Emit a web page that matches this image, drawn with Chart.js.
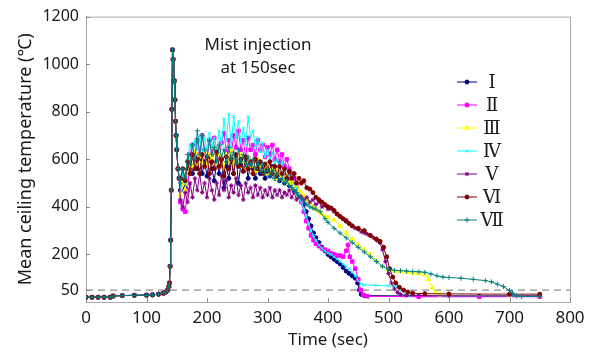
<!DOCTYPE html>
<html lang="en">
<head>
    <meta charset="UTF-8">
    <title>Mean ceiling temperature</title>
    <script src="https://cdn.jsdelivr.net/npm/chart.js"></script>
    <style>
        html, body { margin: 0; padding: 0; background: #fff; }
        #wrap { width: 594px; height: 353px; }
    </style>
</head>
<body>
    <div id="wrap"><canvas id="myChart" width="594" height="353"></canvas></div>

    <script>
        // shared part before mist injection (all runs nearly identical)
        const preTime = [0, 10, 20, 30, 40, 45, 60, 80, 100, 110, 120, 128, 132, 135, 137, 138, 139, 140, 141, 142, 143, 144, 145, 146, 147, 148, 149, 150, 152, 154];
        const preTemp = [20, 20, 20, 20, 20, 25, 27, 28, 29, 30, 33, 37, 42, 50, 65, 80, 150, 260, 470, 810, 1060, 1020, 930, 930, 850, 760, 700, 640, 560, 520];

        // noisy plateau, sampled every 4 s
        const midTime = [156, 160, 164, 168, 172, 176, 180, 184, 188, 192,
                         196, 200, 204, 208, 212, 216, 220, 224, 228, 232,
                         236, 240, 244, 248, 252, 256, 260, 264, 268, 272,
                         276, 280, 284, 288, 292, 296, 300, 304, 308, 312,
                         316, 320, 324, 328, 332, 336, 340, 344, 348, 352];

        const midI = [470, 520, 480, 560, 600, 540, 610, 560, 620, 540,
                      590, 530, 600, 560, 510, 590, 540, 600, 480, 570,
                      520, 590, 540, 610, 500, 580, 550, 600, 520, 580,
                      560, 520, 590, 540, 570, 520, 560, 530, 570, 520,
                      550, 510, 540, 500, 530, 490, 510, 470, 480, 450];
        const midII = [420, 390, 380, 470, 620, 660, 600, 680, 620, 700,
                       640, 600, 680, 620, 690, 640, 600, 670, 710, 630,
                       680, 610, 700, 650, 720, 640, 680, 610, 690, 640,
                       660, 620, 680, 640, 660, 610, 650, 620, 660, 600,
                       640, 590, 620, 570, 600, 560, 540, 520, 490, 460];
        const midIII = [450, 500, 470, 540, 600, 570, 630, 580, 620, 590,
                        640, 580, 620, 600, 650, 580, 630, 600, 560, 620,
                        590, 640, 580, 610, 570, 620, 590, 560, 610, 570,
                        590, 550, 600, 560, 580, 540, 570, 540, 560, 520,
                        550, 530, 540, 510, 530, 500, 510, 480, 490, 470];
        const midIV = [480, 540, 500, 600, 660, 620, 680, 640, 700, 620,
                       690, 640, 710, 650, 690, 630, 720, 660, 770, 680,
                       790, 650, 780, 690, 760, 670, 730, 660, 780, 690,
                       720, 650, 690, 630, 670, 610, 640, 600, 630, 580,
                       600, 570, 590, 550, 560, 530, 530, 500, 480, 450];
        const midV = [430, 400, 460, 420, 500, 440, 520, 470, 540, 460,
                      500, 440, 520, 470, 430, 500, 450, 530, 470, 510,
                      440, 490, 460, 520, 450, 490, 430, 500, 460, 480,
                      440, 490, 450, 480, 440, 470, 450, 480, 440, 470,
                      450, 470, 440, 460, 450, 470, 440, 460, 430, 440];
        const midVI = [520, 560, 510, 590, 540, 620, 560, 600, 540, 620,
                       570, 610, 540, 590, 560, 630, 570, 600, 530, 610,
                       560, 600, 540, 620, 570, 600, 550, 610, 560, 590,
                       540, 600, 560, 590, 540, 580, 550, 590, 540, 570,
                       530, 570, 540, 560, 520, 550, 520, 540, 500, 520];
        const midVII = [500, 560, 520, 620, 580, 660, 600, 720, 620, 700,
                        640, 610, 680, 620, 650, 590, 660, 610, 640, 590,
                        650, 600, 630, 580, 640, 590, 620, 570, 610, 580,
                        600, 560, 590, 550, 580, 540, 560, 530, 550, 520,
                        540, 510, 520, 500, 510, 490, 480, 470, 460, 445];

        // cooling / decay part of each run
        const tailTimeI = [356, 360, 364, 368, 372, 376, 380, 385, 390, 395, 400, 405, 410, 415, 420, 425, 430, 435, 440, 445, 449, 452, 455, 460, 550, 650, 750];
        const tailTempI = [440, 410, 380, 350, 320, 290, 270, 250, 230, 215, 200, 190, 180, 170, 160, 145, 130, 120, 110, 100, 80, 50, 32, 27, 25, 24, 24];
        const tailTimeII = [356, 360, 364, 368, 372, 376, 380, 385, 390, 395, 400, 405, 410, 415, 420, 425, 430, 433, 436, 440, 445, 450, 454, 458, 465, 550, 650, 750];
        const tailTempII = [420, 380, 340, 310, 280, 260, 245, 235, 225, 220, 215, 205, 200, 195, 195, 190, 215, 240, 190, 170, 140, 95, 50, 30, 24, 22, 22, 22];
        const tailTimeIII = [356, 360, 365, 370, 375, 380, 385, 390, 395, 400, 410, 420, 430, 440, 450, 460, 470, 480, 490, 500, 510, 520, 530, 540, 550, 560, 566, 572, 578, 585, 600, 700, 750];
        const tailTempIII = [460, 445, 430, 415, 400, 390, 380, 370, 360, 355, 345, 320, 290, 265, 240, 220, 200, 175, 150, 135, 130, 128, 125, 122, 120, 115, 95, 60, 40, 30, 28, 27, 27];
        const tailTimeIV = [356, 360, 364, 368, 372, 376, 380, 385, 390, 395, 400, 405, 410, 415, 420, 425, 430, 435, 440, 445, 450, 455, 460, 480, 500, 515, 522, 528, 535, 600, 750];
        const tailTempIV = [420, 390, 360, 330, 300, 280, 260, 240, 225, 215, 205, 200, 190, 180, 170, 160, 150, 140, 125, 110, 90, 75, 72, 70, 68, 65, 50, 35, 28, 26, 26];
        const tailTimeV = [356, 360, 365, 370, 375, 380, 385, 390, 395, 400, 405, 410, 415, 420, 425, 430, 435, 440, 445, 450, 455, 460, 465, 470, 475, 480, 485, 490, 495, 500, 505, 510, 515, 520, 530, 600, 750];
        const tailTempV = [440, 430, 440, 420, 430, 410, 420, 400, 405, 390, 395, 380, 370, 360, 350, 345, 330, 320, 310, 305, 295, 290, 285, 280, 270, 260, 250, 220, 170, 120, 80, 55, 40, 32, 28, 26, 26];
        const tailTimeVI = [356, 360, 365, 370, 375, 380, 385, 390, 395, 400, 405, 410, 415, 420, 425, 430, 435, 440, 450, 460, 470, 480, 486, 492, 497, 502, 507, 512, 518, 525, 532, 540, 560, 600, 700, 750];
        const tailTempVI = [500, 510, 480, 475, 460, 440, 430, 420, 410, 400, 395, 385, 370, 360, 350, 340, 330, 320, 310, 300, 280, 265, 255, 230, 190, 140, 105, 80, 62, 50, 42, 37, 35, 34, 33, 33];
        const tailTimeVII = [356, 360, 365, 370, 375, 380, 387, 395, 400, 410, 420, 430, 440, 450, 460, 470, 480, 490, 500, 510, 520, 530, 540, 550, 560, 570, 580, 590, 600, 620, 640, 660, 670, 680, 690, 700, 705, 712, 720, 750];
        const tailTempVII = [435, 425, 410, 400, 395, 390, 380, 350, 335, 310, 290, 270, 250, 230, 210, 190, 170, 150, 138, 133, 132, 130, 128, 127, 125, 118, 110, 105, 103, 100, 95, 90, 85, 75, 65, 48, 38, 25, 23, 24];

        const runNames = ['Ⅰ', 'Ⅱ', 'Ⅲ', 'Ⅳ', 'Ⅴ', 'Ⅵ', 'Ⅶ'];
        const yTickValues = [50, 200, 400, 600, 800, 1000, 1200];
        const refLine = 50;

        function run(mid, tailT, tailV) {
            const xs = preTime.concat(midTime, tailT);
            const ys = preTemp.concat(mid, tailV);
            return xs.map((x, i) => ({ x: x, y: ys[i] }));
        }

        const runs = [
            run(midI, tailTimeI, tailTempI),
            run(midII, tailTimeII, tailTempII),
            run(midIII, tailTimeIII, tailTempIII),
            run(midIV, tailTimeIV, tailTempIV),
            run(midV, tailTimeV, tailTempV),
            run(midVI, tailTimeVI, tailTempVI),
            run(midVII, tailTimeVII, tailTempVII)
        ];

        const colors = ['#000080', '#ff00ff', '#ffff00', '#00ffff', '#800080', '#800000', '#008080'];
        const markers = ['circle', 'rect', 'triangle', 'crossRot', 'star', 'circle', 'cross'];
        const sizes = [2, 2.5, 2.5, 2, 2.2, 2, 2.5];

        const datasets = runs.map((d, i) => ({
            label: runNames[i],
            data: d,
            borderColor: colors[i],
            backgroundColor: colors[i],
            borderWidth: 1,
            pointStyle: markers[i],
            pointRadius: sizes[i],
            pointBorderWidth: 1,
            order: 10 - i
        }));
        datasets.push({
            label: 'ref',
            data: [{ x: 0, y: refLine }, { x: 800, y: refLine }],
            borderColor: '#707070',
            borderWidth: 1,
            borderDash: [7, 5],
            pointRadius: 0,
            order: 20
        });

        const textColor = '#1a1a1a';

        // frame, inward ticks, note and legend
        const decorations = {
            id: 'decorations',
            beforeDatasetsDraw(chart) {
                const { ctx, chartArea: a, scales } = chart;
                ctx.save();
                ctx.strokeStyle = '#a8a8a8';
                ctx.lineWidth = 1;
                ctx.strokeRect(a.left + 0.5, a.top + 0.5, a.right - a.left, a.bottom - a.top);
                ctx.strokeStyle = '#888';
                ctx.beginPath();
                yTickValues.forEach(v => {
                    const y = Math.round(scales.y.getPixelForValue(v)) + 0.5;
                    ctx.moveTo(a.left, y); ctx.lineTo(a.left + 4, y);
                });
                scales.x.ticks.forEach(t => {
                    const x = Math.round(scales.x.getPixelForValue(t.value)) + 0.5;
                    ctx.moveTo(x, a.bottom); ctx.lineTo(x, a.bottom - 4);
                });
                ctx.stroke();
                ctx.restore();
            },
            afterDraw(chart) {
                const { ctx } = chart;
                ctx.save();
                ctx.fillStyle = textColor;
                ctx.font = '17px "Noto Sans", sans-serif';
                ctx.textAlign = 'center';
                ctx.textBaseline = 'middle';
                ctx.fillText('Mist injection', 258, 45);
                ctx.fillText('at 150sec', 258, 68);

                const x0 = 457, x1 = 477, y0 = 82, dy = 23;
                runNames.forEach((name, i) => {
                    const y = y0 + i * dy;
                    ctx.strokeStyle = colors[i];
                    ctx.fillStyle = colors[i];
                    ctx.lineWidth = 1;
                    ctx.beginPath();
                    ctx.moveTo(x0, y); ctx.lineTo(x1, y);
                    ctx.stroke();
                    Chart.helpers.drawPoint(ctx, {
                        pointStyle: markers[i], radius: sizes[i], borderWidth: 1,
                        rotation: 0
                    }, (x0 + x1) / 2, y);
                    ctx.fillStyle = textColor;
                    ctx.font = '18px "DejaVu Serif", "Liberation Serif", serif';
                    ctx.textAlign = 'center';
                    ctx.fillText(name, 492, y + 1);
                });
                ctx.restore();
            }
        };

        const ctx = document.getElementById('myChart').getContext('2d');

        new Chart(ctx, {
            type: 'line',
            data: { datasets: datasets },
            options: {
                responsive: false,
                animation: false,
                layout: { padding: { left: 0, right: 24, top: 13, bottom: 0 } },
                scales: {
                    x: {
                        type: 'linear',
                        min: 0,
                        max: 800,
                        ticks: { stepSize: 100, color: textColor, padding: 6, font: { family: '"Noto Sans", sans-serif', size: 17 },
                                 callback: v => String(v) },
                        grid: { display: false, drawTicks: false },
                        border: { display: true, color: '#8a8a8a' },
                        title: { display: true, text: 'Time (sec)', color: textColor, padding: { top: 0, bottom: 3 }, font: { family: '"Noto Sans", sans-serif', size: 17 } },
                        afterFit: s => { s.height = 51; }
                    },
                    y: {
                        type: 'linear',
                        min: 0,
                        max: 1200,
                        ticks: { color: textColor, padding: 7, font: { family: '"Noto Sans", sans-serif', size: 16 },
                                 callback: v => String(v) },
                        afterBuildTicks: s => { s.ticks = yTickValues.map(v => ({ value: v })); },
                        grid: { display: false, drawTicks: false },
                        border: { display: true, color: '#8a8a8a' },
                        title: { display: true, text: 'Mean ceiling temperature (℃)', color: textColor, padding: { top: 15, bottom: 0 }, font: { family: '"Noto Sans", sans-serif', size: 18 } },
                        afterFit: s => { s.width = 86; }
                    }
                },
                plugins: {
                    legend: { display: false },
                    tooltip: { enabled: false }
                }
            },
            plugins: [decorations]
        });
    </script>
</body>
</html>
